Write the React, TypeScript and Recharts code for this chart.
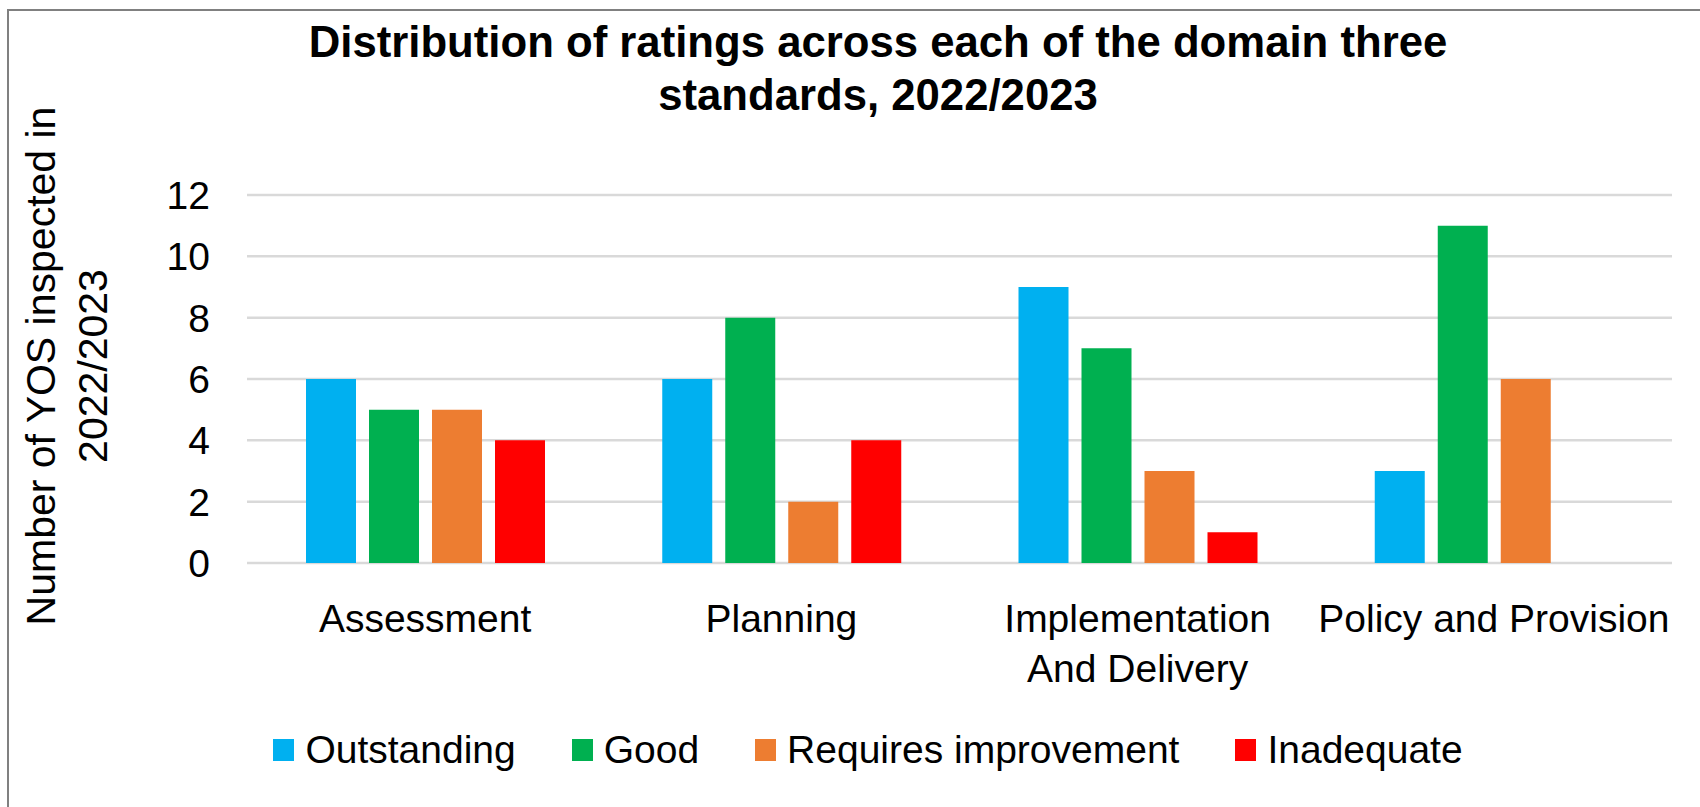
import React from 'react';
import { BarChart, Bar, XAxis, YAxis, CartesianGrid, Legend } from 'recharts';

const FONT = '"Liberation Sans", Arial, sans-serif';

const categories = ['Assessment', 'Planning', 'Implementation\nAnd Delivery', 'Policy and Provision'];
const outstanding = [6, 6, 9, 3];
const good = [5, 8, 7, 11];
const requiresImprovement = [5, 2, 3, 6];
const inadequate = [4, 4, 1, 0];
const yTicks = [0, 2, 4, 6, 8, 10, 12];
const titleLines = ['Distribution of ratings across each of the domain three', 'standards, 2022/2023'];
const yLabelLines = ['Number of YOS inspected in', '2022/2023'];

const series = [
  { key: 'outstanding', name: 'Outstanding', color: '#00B0F0' },
  { key: 'good', name: 'Good', color: '#00B050' },
  { key: 'requiresImprovement', name: 'Requires improvement', color: '#ED7D31' },
  { key: 'inadequate', name: 'Inadequate', color: '#FF0000' },
];

const data = categories.map((category, i) => ({
  category,
  outstanding: outstanding[i],
  good: good[i],
  requiresImprovement: requiresImprovement[i],
  inadequate: inadequate[i],
}));

const CategoryTick = (props: any) => {
  const { x, y, payload } = props;
  const lines = String(payload.value).split('\n');
  return (
    <text x={x} y={y} textAnchor="middle" fontFamily={FONT} fontSize={39} fill="#000">
      {lines.map((line, i) => (
        <tspan key={i} x={x} dy={i === 0 ? 69 : 50}>
          {line}
        </tspan>
      ))}
    </text>
  );
};

const LegendContent = () => (
  <div
    style={{
      display: 'flex',
      justifyContent: 'center',
      gap: 56,
      fontFamily: FONT,
      fontSize: 39,
      lineHeight: '45px',
      color: '#000',
    }}
  >
    {series.map((s) => (
      <div key={s.key} style={{ display: 'flex', alignItems: 'center' }}>
        <span style={{ display: 'inline-block', width: 21, height: 22, background: s.color, marginRight: 11 }} />
        <span>{s.name}</span>
      </div>
    ))}
  </div>
);

export default function App() {
  return (
    <div style={{ position: 'absolute', left: 0, top: 0, width: 1700, height: 807, background: '#fff' }}>
      <BarChart
        width={1700}
        height={807}
        data={data}
        margin={{ top: 195, right: 28, bottom: 0, left: 147 }}
        barGap={13}
      >
        <CartesianGrid vertical={false} stroke="#d9d9d9" strokeWidth={2.5} />
        <XAxis
          dataKey="category"
          axisLine={false}
          tickLine={false}
          tickSize={0}
          tickMargin={0}
          height={244}
          interval={0}
          tick={<CategoryTick />}
        />
        <YAxis
          domain={[0, 12]}
          ticks={yTicks}
          interval={0}
          axisLine={false}
          tickLine={false}
          tickSize={0}
          tickMargin={37}
          width={100}
          tick={{ fontFamily: FONT, fontSize: 39, fill: '#000' }}
        />
        <Legend
          verticalAlign="middle"
          layout="horizontal"
          align="center"
          content={<LegendContent />}
          wrapperStyle={{ top: 727, left: 18, width: 1700 }}
        />
        {series.map((s) => (
          <Bar key={s.key} dataKey={s.key} name={s.name} fill={s.color} barSize={50} isAnimationActive={false} />
        ))}
      </BarChart>
      <svg
        width={1700}
        height={807}
        style={{ position: 'absolute', left: 0, top: 0, pointerEvents: 'none' }}
      >
        <line x1={7} y1={10} x2={1700} y2={10} stroke="#808080" strokeWidth={2} />
        <line x1={8} y1={9} x2={8} y2={807} stroke="#808080" strokeWidth={2} />
        {titleLines.map((line, i) => (
          <text
            key={i}
            x={878}
            y={57 + i * 53}
            textAnchor="middle"
            fontFamily={FONT}
            fontWeight="bold"
            fontSize={43.7}
            fill="#000"
          >
            {line}
          </text>
        ))}
        {yLabelLines.map((line, i) => (
          <text
            key={i}
            x={55 + i * 52}
            y={366}
            transform={`rotate(-90, ${55 + i * 52}, 366)`}
            textAnchor="middle"
            fontFamily={FONT}
            fontSize={41}
            fill="#000"
          >
            {line}
          </text>
        ))}
      </svg>
    </div>
  );
}
